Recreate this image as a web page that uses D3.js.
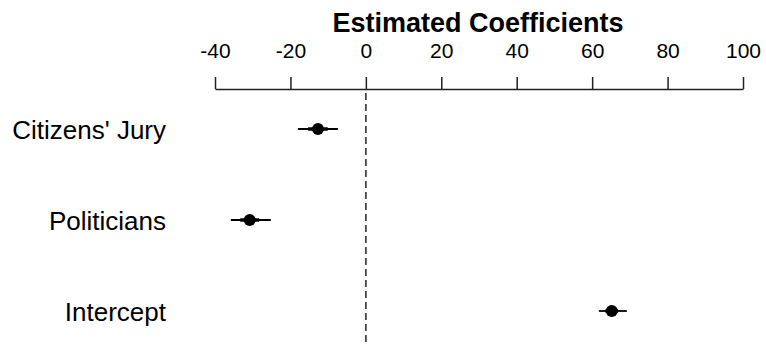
<!DOCTYPE html>
<html>
<head>
<meta charset="utf-8">
<script src="https://cdn.jsdelivr.net/npm/d3@7"></script>
<style>
  body { margin: 0; background: #fff; }
  text { font-family: "Liberation Sans", Arial, sans-serif; }
</style>
</head>
<body>
<div id="chart"></div>
<script>
var terms = ["Citizens' Jury", "Politicians", "Intercept"],
    estimate = [-12.7, -30.8, 65.2],
    lower = [-18.0, -35.8, 61.8],
    upper = [-7.4, -25.2, 69.2],
    innerLower = [-15.3, -33.3, 63.5],
    innerUpper = [-10.1, -28.3, 66.9],
    ticks = [-40, -20, 0, 20, 40, 60, 80, 100];

var width = 766,
    height = 346;

var svg = d3.select("#chart").append("svg")
    .attr("width", width)
    .attr("height", height);

var x = d3.scaleLinear()
    .domain([-40, 100])
    .range([215, 743]);

var y = d3.scalePoint()
    .domain(terms)
    .range([129, 311]);

// title
svg.append("text")
    .attr("x", 478)
    .attr("y", 32)
    .attr("text-anchor", "middle")
    .style("font-size", "27px")
    .style("font-weight", "bold")
    .text("Estimated Coefficients");

// top axis
var axis = svg.append("g")
    .attr("transform", "translate(0,89)")
    .call(d3.axisTop(x).tickValues(ticks).tickSize(12).tickPadding(19).tickSizeOuter(0)
        .tickFormat(function (d) { return String(d); }));
axis.select(".domain").attr("stroke", "#222").attr("stroke-width", 1.5);
axis.selectAll(".tick line").attr("stroke", "#222").attr("stroke-width", 1.5);
axis.selectAll(".tick text")
    .attr("fill", "#000")
    .style("font-size", "21px")
    .style("font-family", "Liberation Sans, Arial, sans-serif");

// zero line
svg.append("line")
    .attr("x1", x(0)).attr("x2", x(0))
    .attr("y1", 93).attr("y2", height)
    .attr("stroke", "#444")
    .attr("stroke-width", 1.8)
    .attr("stroke-dasharray", "7,4");

// term labels
svg.selectAll(".lab")
    .data(terms)
    .enter().append("text")
    .attr("class", "lab")
    .attr("x", 166)
    .attr("y", function (d) { return y(d) + 10; })
    .attr("text-anchor", "end")
    .style("font-size", "26px")
    .text(function (d) { return d; });

var g = svg.selectAll(".coef")
    .data(terms)
    .enter().append("g")
    .attr("class", "coef");

g.append("line")
    .attr("x1", function (d, i) { return x(lower[i]); })
    .attr("x2", function (d, i) { return x(upper[i]); })
    .attr("y1", function (d) { return y(d); })
    .attr("y2", function (d) { return y(d); })
    .attr("stroke", "#000")
    .attr("stroke-width", 1.8);

g.append("line")
    .attr("x1", function (d, i) { return x(innerLower[i]); })
    .attr("x2", function (d, i) { return x(innerUpper[i]); })
    .attr("y1", function (d) { return y(d); })
    .attr("y2", function (d) { return y(d); })
    .attr("stroke", "#000")
    .attr("stroke-width", 3.5);

g.append("circle")
    .attr("cx", function (d, i) { return x(estimate[i]); })
    .attr("cy", function (d) { return y(d); })
    .attr("r", 6)
    .attr("fill", "#000");
</script>
</body>
</html>
